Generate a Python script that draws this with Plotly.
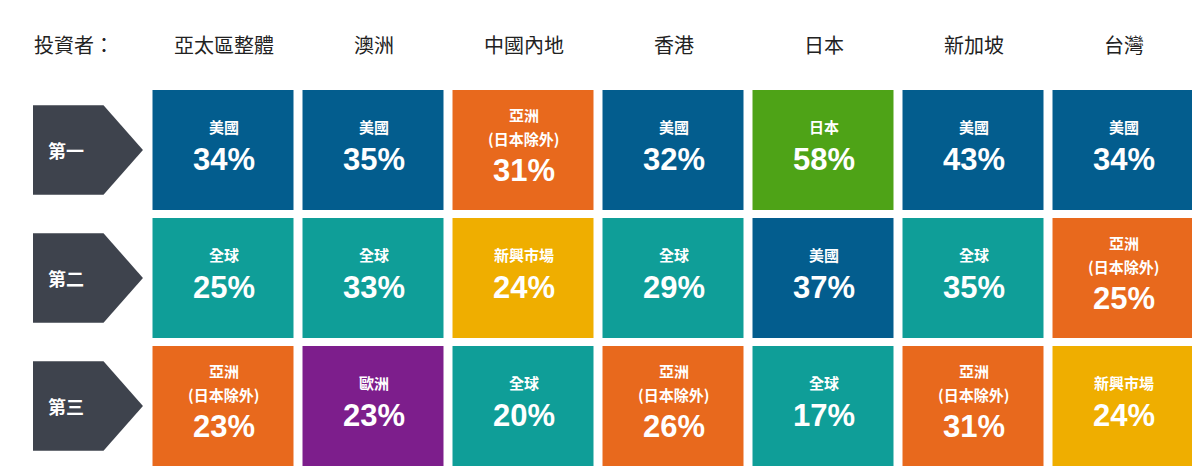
import plotly.graph_objects as go

# data
markets = ["亞太區整體", "澳洲", "中國內地", "香港", "日本", "新加坡", "台灣"]
ranks = ["第一", "第二", "第三"]
first_cat = ["美國", "美國", "亞洲|(日本除外)", "美國", "日本", "美國", "美國"]
first_pct = [34, 35, 31, 32, 58, 43, 34]
second_cat = ["全球", "全球", "新興市場", "全球", "美國", "全球", "亞洲|(日本除外)"]
second_pct = [25, 33, 24, 29, 37, 35, 25]
third_cat = ["亞洲|(日本除外)", "歐洲", "全球", "亞洲|(日本除外)", "全球", "亞洲|(日本除外)", "新興市場"]
third_pct = [23, 23, 20, 26, 17, 31, 24]

cat_colors = {
    "美國": "#035d8e",
    "全球": "#0f9e98",
    "亞洲|(日本除外)": "#e8691d",
    "新興市場": "#efae00",
    "日本": "#4ea317",
    "歐洲": "#7d1e8c",
}
cat_list = list(cat_colors)

cats = [first_cat, second_cat, third_cat]
pcts = [first_pct, second_pct, third_pct]

z = [[cat_list.index(c) for c in row] for row in cats]
n = len(cat_list)
colorscale = []
for i, c in enumerate(cat_list):
    colorscale.append([i / n, cat_colors[c]])
    colorscale.append([(i + 1) / n, cat_colors[c]])

font = "Noto Sans CJK TC"
fig = go.Figure(go.Heatmap(
    z=z, x=list(range(len(markets))), y=list(range(len(ranks))),
    colorscale=colorscale, zmin=0, zmax=n, showscale=False,
    xgap=9, ygap=8, hoverinfo="skip"))

# cell labels
for r in range(len(ranks)):
    for c in range(len(markets)):
        lines = cats[r][c].split("|")
        if len(lines) == 1:
            shifts, pshift = [24], -9
        else:
            shifts, pshift = [36, 12], -20
        for line, s in zip(lines, shifts):
            fig.add_annotation(x=c, y=r, yshift=s, showarrow=False, text=f"<b>{line}</b>",
                               font=dict(family=font, size=15, color="white"))
        fig.add_annotation(x=c, y=r, yshift=pshift, showarrow=False, text=f"<b>{pcts[r][c]}%</b>",
                           font=dict(family="Liberation Sans", size=31, color="white"))

# header
hy = (36 - 78) / 128 - 0.5
fig.add_annotation(x=-1.28, y=hy, xanchor="left", showarrow=False,
                   text="投資者：", font=dict(family=font, size=20, color="#222"))
for c, m in enumerate(markets):
    fig.add_annotation(x=c, y=hy, showarrow=False,
                       text=m, font=dict(family=font, size=20, color="#222"))

# rank arrows
for r, name in enumerate(ranks):
    t, b = r - 0.35, r + 0.35
    fig.add_shape(type="path", fillcolor="#3e434d", line_width=0, layer="above",
                  path=f"M -1.27 {t} L -0.80 {t} L -0.537 {r} L -0.80 {b} L -1.27 {b} Z")
    fig.add_annotation(x=-1.05, y=r, showarrow=False, text=f"<b>{name}</b>",
                       font=dict(family=font, size=18, color="white"))

fig.update_xaxes(range=[(0 - 140.5) / 150 - 0.5, (1200 - 140.5) / 150 - 0.5], visible=False)
fig.update_yaxes(range=[(475 - 78) / 128 - 0.5, (0 - 78) / 128 - 0.5], visible=False)
fig.update_layout(width=1200, height=475, margin=dict(l=0, r=0, t=0, b=0),
                  plot_bgcolor="white", paper_bgcolor="white")
fig.write_html("out.html")
